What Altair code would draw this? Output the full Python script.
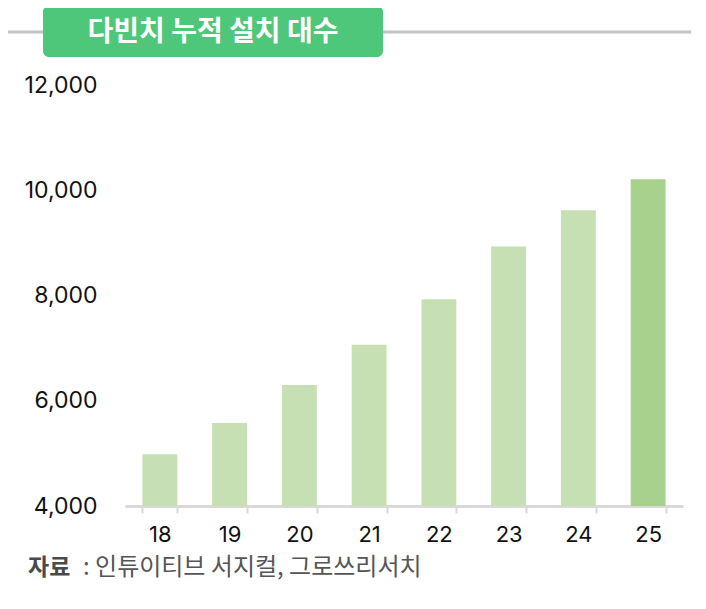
import altair as alt
import pandas as pd

YEARS = ["18", "19", "20", "21", "22", "23", "24", "25"]
INSTALLED = [4985, 5575, 6300, 7065, 7930, 8930, 9620, 10210]
HIGHLIGHT = ["past", "past", "past", "past", "past", "past", "past", "latest"]
Y_TICKS = [4000, 6000, 8000, 10000, 12000]
Y_MIN = 4000

TITLE = "다빈치 누적 설치 대수"
SOURCE_HEAD = "자료"
SOURCE_BODY = ": 인튜이티브 서지컬, 그로쓰리서치"

df = pd.DataFrame({"year": YEARS, "value": INSTALLED, "kind": HIGHLIGHT})
df["base"] = Y_MIN

FONT = "Inter"
KFONT = "Noto Sans CJK KR"
PLOT_H = 421

bars = (
    alt.Chart(df)
    .mark_bar()
    .encode(
        x=alt.X(
            "year:N",
            sort=YEARS,
            title=None,
            scale=alt.Scale(paddingInner=0.5, paddingOuter=0.25),
            axis=alt.Axis(
                labelAngle=0,
                labelFont=FONT,
                labelFontSize=22,
                labelColor="#111111",
                labelPadding=11,
                domainColor="#d9d9d9",
                domainWidth=3,
                tickColor="#d9d9d9",
                tickWidth=2,
                tickSize=7,
                tickBand="extent",
                grid=False,
            ),
        ),
        y=alt.Y(
            "value:Q",
            title=None,
            scale=alt.Scale(domain=[Y_MIN, 12000], zero=False, nice=False),
            axis=alt.Axis(
                values=Y_TICKS,
                format=",.0f",
                labelFont=FONT,
                labelFontSize=23,
                labelColor="#111111",
                labelPadding=28,
                domain=False,
                ticks=False,
                grid=False,
            ),
        ),
        y2="base:Q",
        color=alt.Color(
            "kind:N",
            scale=alt.Scale(domain=["past", "latest"], range=["#c6e0b4", "#a9d18e"]),
            legend=None,
        ),
    )
)

one = pd.DataFrame({"k": [0]})

# header: grey rule with the green badge on top
header_line = (
    alt.Chart(one)
    .mark_rule(color="#c4c4c4", strokeWidth=3)
    .encode(x=alt.value(-117), x2=alt.value(568), y=alt.value(-53))
)
badge = (
    alt.Chart(one)
    .mark_rect(color="#4ec77b", cornerRadius=6)
    .encode(x=alt.value(-82), x2=alt.value(258), y=alt.value(-79), y2=alt.value(-28))
)
badge_text = (
    alt.Chart(pd.DataFrame({"t": [TITLE]}))
    .mark_text(
        font=KFONT, fontSize=28, fontWeight="bold", color="white",
        align="center", baseline="middle",
    )
    .encode(x=alt.value(88), y=alt.value(-52), text="t:N")
)

# source line under the x labels
source_head = (
    alt.Chart(pd.DataFrame({"t": [SOURCE_HEAD]}))
    .mark_text(
        font=KFONT, fontSize=23, fontWeight="bold", color="#4a4a4a",
        align="left", baseline="middle",
    )
    .encode(x=alt.value(-97), y=alt.value(PLOT_H + 62), text="t:N")
)
source_body = (
    alt.Chart(pd.DataFrame({"t": [SOURCE_BODY]}))
    .mark_text(
        font=KFONT, fontSize=24, color="#555555",
        align="left", baseline="middle",
    )
    .encode(x=alt.value(-42), y=alt.value(PLOT_H + 62), text="t:N")
)

chart = (
    alt.layer(bars, header_line, badge, badge_text, source_head, source_body)
    .properties(
        width=558,
        height=PLOT_H,
        autosize=alt.AutoSizeParams(type="none"),
        padding={"left": 117, "top": 77, "right": 8, "bottom": 90},
        background="white",
    )
    .configure_view(stroke=None)
)

chart.save("out.html", embed_options={"renderer": "svg", "actions": False})
